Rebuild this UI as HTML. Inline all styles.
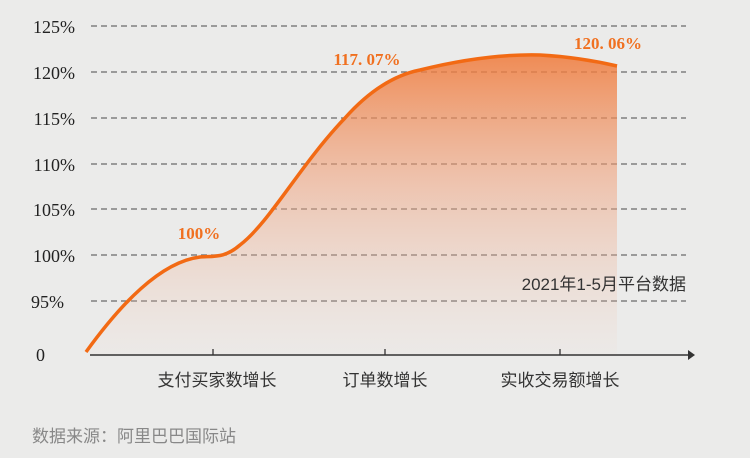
<!DOCTYPE html>
<html><head><meta charset="utf-8"><style>
body{margin:0;width:750px;height:458px;background:#ebebea;overflow:hidden}
svg{display:block}
</style></head><body>
<svg width="750" height="458" viewBox="0 0 750 458" xmlns="http://www.w3.org/2000/svg">
<defs>
<linearGradient id="g" x1="0" y1="0" x2="0" y2="1">
<stop offset="0" stop-color="#f07a3a" stop-opacity="0.85"/>
<stop offset="0.45" stop-color="#f0a07a" stop-opacity="0.5"/>
<stop offset="1" stop-color="#f0c8b4" stop-opacity="0.05"/>
</linearGradient>
</defs>
<g stroke="#6a6a6a" stroke-width="1.3" stroke-dasharray="6,4">
<line x1="91" y1="26" x2="686" y2="26"/>
<line x1="91" y1="72" x2="686" y2="72"/>
<line x1="91" y1="118" x2="686" y2="118"/>
<line x1="91" y1="164" x2="686" y2="164"/>
<line x1="91" y1="209" x2="686" y2="209"/>
<line x1="91" y1="255" x2="686" y2="255"/>
<line x1="91" y1="301" x2="686" y2="301"/>
</g>
<path d="M86,352 C120,305 160,262 200,257 C215,256 225,258 240,245 C270,222 300,165 345,118 C370,90 395,75 420,70 C460,60 500,54 540,55 C575,57 600,62 617,66 L617,200 L617,355 L90,355 Z" fill="url(#g)"/>
<path d="M86,352 C120,305 160,262 200,257 C215,256 225,258 240,245 C270,222 300,165 345,118 C370,90 395,75 420,70 C460,60 500,54 540,55 C575,57 600,62 617,66" fill="none" stroke="#f26a14" stroke-width="3.5"/>
<line x1="90" y1="355" x2="688" y2="355" stroke="#333" stroke-width="1.5"/>
<path d="M688,350 L695,355 L688,360 Z" fill="#333"/>
<g stroke="#333" stroke-width="1.3"><line x1="213" y1="349" x2="213" y2="355"/><line x1="385" y1="349" x2="385" y2="355"/><line x1="560" y1="349" x2="560" y2="355"/></g>
<g font-family="Liberation Serif, serif" font-size="18" fill="#222" text-anchor="end">
<text x="75" y="33">125%</text><text x="75" y="79">120%</text><text x="75" y="125">115%</text>
<text x="75" y="171">110%</text><text x="75" y="216">105%</text><text x="75" y="262">100%</text>
<text x="64" y="308">95%</text><text x="45" y="361">0</text>
</g>
<g font-family="Liberation Serif, serif" font-size="17" font-weight="bold" fill="#f07020" text-anchor="middle">
<text x="199" y="239">100%</text><text x="367" y="65">117. 07%</text><text x="608" y="49">120. 06%</text>
</g>
<g font-family="Liberation Sans, Noto Sans CJK SC, sans-serif" font-size="17" fill="#333" text-anchor="middle">
<text x="217" y="386">支付买家数增长</text><text x="385" y="386">订单数增长</text><text x="560" y="386">实收交易额增长</text>
<text x="686" y="290" text-anchor="end">2021年1-5月平台数据</text>
</g>
<text x="32" y="442" font-family="Liberation Sans, Noto Sans CJK SC, sans-serif" font-size="17" fill="#888">数据来源：阿里巴巴国际站</text>
</svg>
</body></html>
